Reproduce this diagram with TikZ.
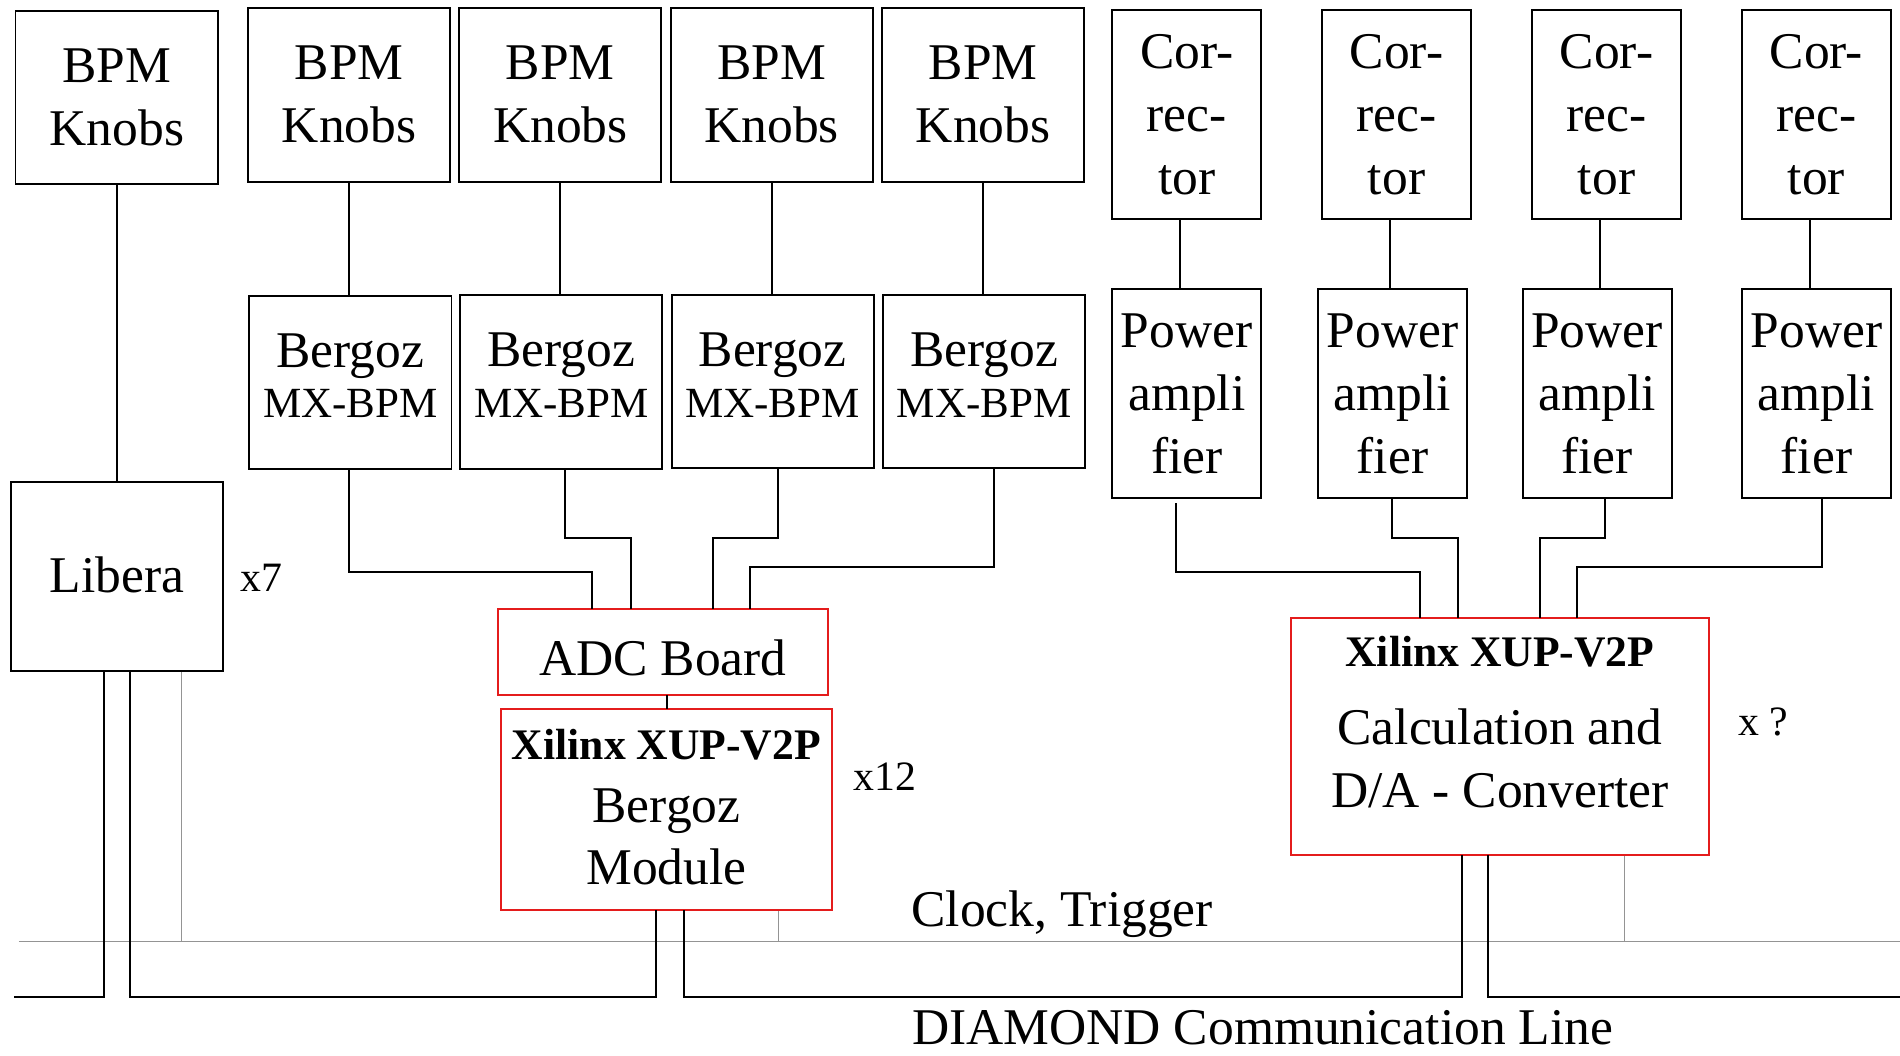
\documentclass[tikz,border=0pt]{standalone}
\usepackage{fontspec}
\setmainfont{Liberation Serif}
\usetikzlibrary{calc}
\newcommand\mainf{\fontsize{42.5}{52}\selectfont}
\newcommand\smallf{\fontsize{35.5}{43}\selectfont}
\newcommand\annf{\fontsize{34.5}{40}\selectfont}
\newcommand\boldf{\fontsize{36}{44}\selectfont\bfseries}
\newcommand\dn[1]{\rule[-#1]{0pt}{0pt}}
\definecolor{boxred}{RGB}{228,28,28}
\begin{document}
\begin{tikzpicture}[x=1pt,y=-1pt,
  box/.style={draw, line width=1.6pt, inner sep=0pt, align=center, font=\mainf},
  redbox/.style={box, draw=boxred},
  knob/.style={box, minimum width=166.7pt, minimum height=143.5pt},
  bergoz/.style={box, minimum width=166.8pt, minimum height=143pt},
  corr/.style={box, minimum width=123pt, minimum height=172.7pt},
  amp/.style={box, minimum width=123pt, minimum height=173pt},
  conn/.style={line width=1.6pt, line cap=rect},
  gline/.style={line width=0.9pt, draw=black!42},
  ann/.style={font=\annf, inner sep=0pt, anchor=base},
  lbl/.style={font=\mainf, inner sep=0pt, anchor=base}]
\useasboundingbox (0,0) rectangle (1568,871);

% BPM knobs
\node[box, minimum width=167.4pt, minimum height=143.3pt] (k1) at (96.5,80.5) {BPM\\Knobs};
\node[knob] (k2) at (288.2,78.3) {BPM\\Knobs};
\node[knob] (k3) at (462.4,78.3) {BPM\\Knobs};
\node[knob] (k4) at (636.8,78.3) {BPM\\Knobs};
\node[knob] (k5) at (811.3,78.3) {BPM\\Knobs};

% Bergoz
\node[bergoz] (b2) at (289.2,315.5) {Bergoz\\[-10pt]{\smallf MX-BPM\dn{11pt}}};
\node[bergoz] (b3) at (463.3,315.3) {Bergoz\\[-10pt]{\smallf MX-BPM\dn{11pt}}};
\node[bergoz] (b4) at (637.6,315) {Bergoz\\[-10pt]{\smallf MX-BPM\dn{11pt}}};
\node[bergoz] (b5) at (812.2,315) {Bergoz\\[-10pt]{\smallf MX-BPM\dn{11pt}}};

% Correctors
\node[corr] (c1) at (979.4,94.7) {Cor-\\rec-\\tor};
\node[corr] (c2) at (1152.5,94.7) {Cor-\\rec-\\tor};
\node[corr] (c3) at (1325.8,94.7) {Cor-\\rec-\\tor};
\node[corr] (c4) at (1499,94.7) {Cor-\\rec-\\tor};

% Power amplifiers
\node[amp] (p1) at (979.4,324.8) {Power\\ampli\\fier};
\node[amp] (p2) at (1149.2,324.8) {Power\\ampli\\fier};
\node[amp] (p3) at (1318,324.8) {Power\\ampli\\fier};
\node[amp] (p4) at (1499,324.8) {Power\\ampli\\fier};

% Libera, ADC, Xilinx
\node[box, minimum width=175pt, minimum height=156pt] (lib) at (96.5,476) {Libera\dn{3pt}};
\node[redbox, minimum width=272.6pt, minimum height=71.4pt] (adc) at (547,537.9) {\rule{0pt}{39pt}ADC Board};
\node[redbox, minimum width=272.7pt, minimum height=166.2pt] (xil) at (550,668.2)
  {{\boldf Xilinx XUP-V2P}\\Bergoz\\[-1pt]Module\dn{5pt}};
\node[redbox, minimum width=345.1pt, minimum height=195.8pt] (calc) at (1237.8,607.8)
  {{\boldf Xilinx XUP-V2P}\\[13pt]Calculation and\\D/A - Converter\dn{24pt}};

% annotations
\node[ann] (n7) at (216,488) {x7};
\node[ann] (n12) at (730,652) {x12};
\node[ann] (nq) at (1455,607) {x ?};
\node[lbl] (clk) at (876.5,765) {Clock, Trigger};
\node[lbl] (dia) at (1042,862) {DIAMOND Communication Line};

% connectors top
\draw[conn] (k1.south) -- (k1.south |- lib.north);
\foreach \i in {2,3,4,5}{
  \draw[conn] (k\i.south) -- (k\i.south |- b\i.north);
}
\foreach \i in {1,2,3,4}{
  \draw[conn] ([xshift=-5.5pt]c\i.south) -- ([xshift=-5.5pt]c\i.south |- p\i.north);
}

% Bergoz -> ADC
\draw[conn] ([xshift=-1.2pt]b2.south) -- ++(0,84.3) -| ([xshift=-58.4pt]adc.north);
\draw[conn] ([xshift=3.2pt]b3.south) -- ++(0,56.7) -| ([xshift=-26.3pt]adc.north);
\draw[conn] ([xshift=4.2pt]b4.south) -- ++(0,57) -| ([xshift=41.2pt]adc.north);
\draw[conn] ([xshift=8.2pt]b5.south) -- ++(0,80.6) -| ([xshift=72.2pt]adc.north);
\draw[conn] ([xshift=3.7pt]adc.south) -- ([xshift=3.7pt]adc.south |- xil.north);

% PA -> Calc
\draw[conn] ([xshift=-8.8pt,yshift=-4pt]p1.south) -- ++(0,56) -| ([xshift=-65.6pt]calc.north);
\draw[conn] ([xshift=-0.1pt]p2.south) -- ++(0,32.2) -| ([xshift=-34.6pt]calc.north);
\draw[conn] ([xshift=6.8pt]p3.south) -- ++(0,32.2) -| ([xshift=32.9pt]calc.north);
\draw[conn] ([xshift=4.3pt]p4.south) -- ++(0,55.8) -| ([xshift=64pt]calc.north);

% bottom lines
\coordinate (cl) at (12,823);
\coordinate (cr) at (1568,823);
\coordinate (gl) at (15.5,777);
\coordinate (gr) at (1568,777);

\draw[gline] (gl) -- (gr);
\draw[gline] ([xshift=53.5pt]lib.south) -- ([xshift=53.5pt]lib.south |- gl);
\draw[gline] ([xshift=92.7pt]xil.south) -- ([xshift=92.7pt]xil.south |- gl);
\draw[gline] ([xshift=102.9pt]calc.south) -- ([xshift=102.9pt]calc.south |- gl);

\draw[conn] (cl) -| ([xshift=-10.5pt]lib.south);
\draw[conn] ([xshift=11pt]lib.south) -- ([xshift=11pt]lib.south |- cl) -| ([xshift=-8.8pt]xil.south);
\draw[conn] ([xshift=14.2pt]xil.south) -- ([xshift=14.2pt]xil.south |- cl) -| ([xshift=-31.1pt]calc.south);
\draw[conn] ([xshift=-9.6pt]calc.south) |- (cr);
\end{tikzpicture}
\end{document}
